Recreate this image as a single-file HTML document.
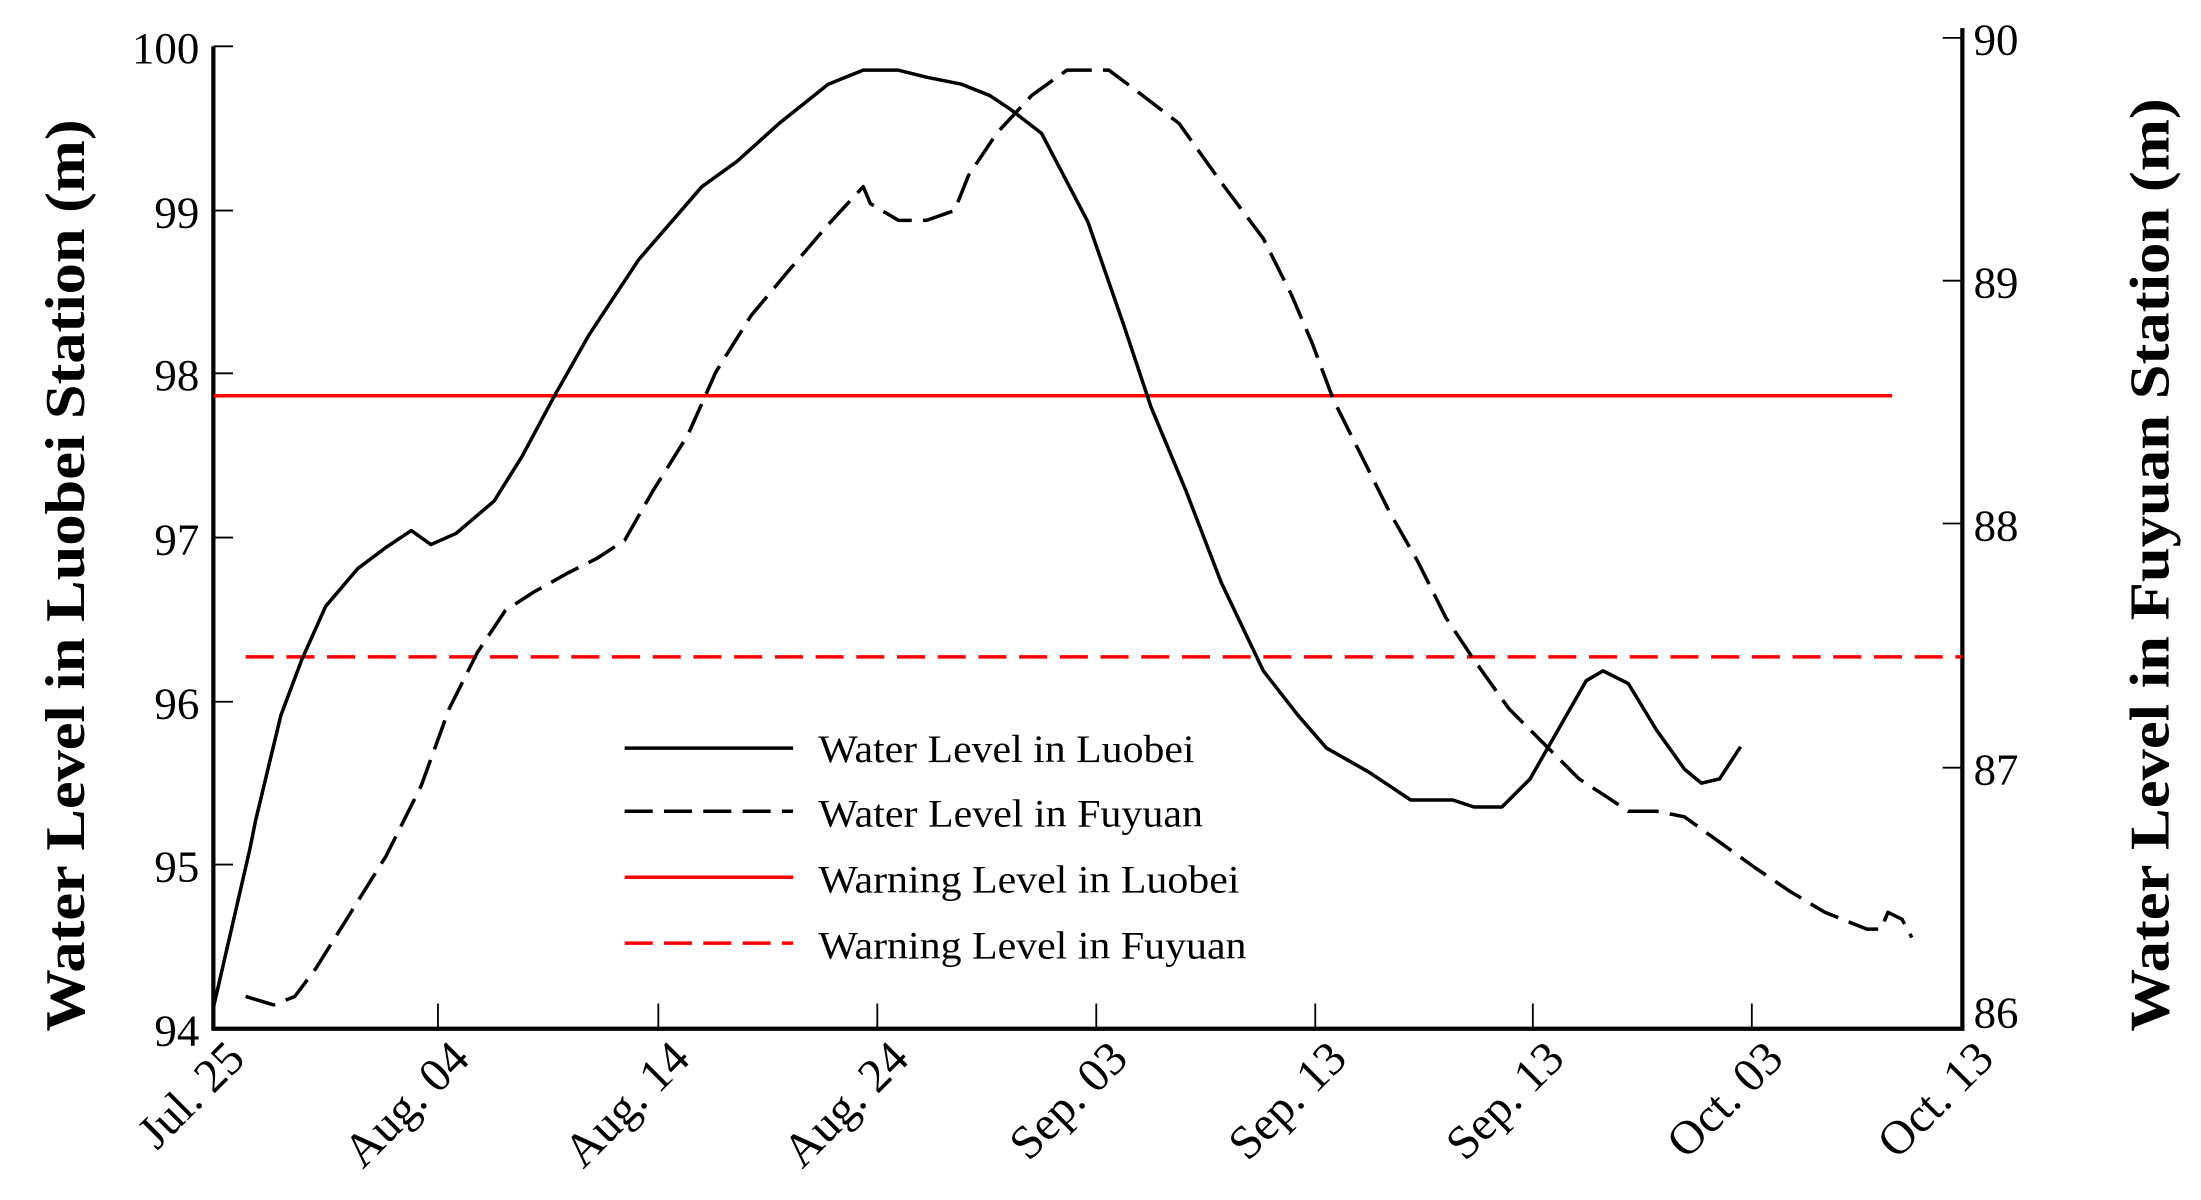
<!DOCTYPE html>
<html><head><meta charset="utf-8"><style>html,body{margin:0;padding:0;background:#fff}svg{display:block}</style></head><body>
<svg width="2201" height="1200" viewBox="0 0 1568 855" preserveAspectRatio="none" xmlns="http://www.w3.org/2000/svg" font-family="Liberation Serif, serif">
<rect width="1568" height="855" fill="#fff"/>
<polyline points="152,33 152,733 1398,733 1398,20" fill="none" stroke="#000" stroke-width="3"/>
<g stroke="#000" stroke-width="1.3">
<line x1="152" y1="33" x2="166" y2="33"/><line x1="152" y1="150" x2="166" y2="150"/><line x1="152" y1="266" x2="166" y2="266"/><line x1="152" y1="383" x2="166" y2="383"/><line x1="152" y1="500" x2="166" y2="500"/><line x1="152" y1="616" x2="166" y2="616"/>
<line x1="1384" y1="27" x2="1398" y2="27"/><line x1="1384" y1="200" x2="1398" y2="200"/><line x1="1384" y1="373" x2="1398" y2="373"/><line x1="1384" y1="547" x2="1398" y2="547"/>
<line x1="312" y1="733" x2="312" y2="715"/><line x1="469" y1="733" x2="469" y2="715"/><line x1="625" y1="733" x2="625" y2="715"/><line x1="781" y1="733" x2="781" y2="715"/><line x1="937" y1="733" x2="937" y2="715"/><line x1="1092" y1="733" x2="1092" y2="715"/><line x1="1248" y1="733" x2="1248" y2="715"/>
</g>
<g font-size="32" text-anchor="end">
<text x="142" y="45">100</text><text x="142" y="162">99</text><text x="142" y="278">98</text><text x="142" y="395">97</text><text x="142" y="512">96</text><text x="142" y="628">95</text><text x="142" y="745">94</text>
</g>
<g font-size="32" text-anchor="start">
<text x="1406" y="39">90</text><text x="1406" y="212">89</text><text x="1406" y="385">88</text><text x="1406" y="559">87</text><text x="1406" y="732">86</text>
</g>
<g font-size="34" text-anchor="end">
<text transform="translate(176,756) rotate(-45)">Jul. 25</text>
<text transform="translate(336,756) rotate(-45)">Aug. 04</text>
<text transform="translate(493,756) rotate(-45)">Aug. 14</text>
<text transform="translate(649,756) rotate(-45)">Aug. 24</text>
<text transform="translate(805,756) rotate(-45)">Sep. 03</text>
<text transform="translate(961,756) rotate(-45)">Sep. 13</text>
<text transform="translate(1116,756) rotate(-45)">Sep. 13</text>
<text transform="translate(1272,756) rotate(-45)">Oct. 03</text>
<text transform="translate(1422,756) rotate(-45)">Oct. 13</text>
</g>
<text transform="translate(60,735) rotate(-90)" font-size="40" font-weight="bold" textLength="650" lengthAdjust="spacingAndGlyphs">Water Level in Luobei Station (m)</text>
<text transform="translate(1545,735) rotate(-90)" font-size="40" font-weight="bold" textLength="665" lengthAdjust="spacingAndGlyphs">Water Level in Fuyuan Station (m)</text>
<line x1="152" y1="282" x2="1348" y2="282" stroke="#f00" stroke-width="2.5"/>
<line x1="175" y1="468" x2="1398" y2="468" stroke="#f00" stroke-width="2.5" stroke-dasharray="20,9"/>
<polyline fill="none" stroke="#000" stroke-width="2.5" stroke-linejoin="round" points="152,718 178,605 182,585 200,510 215,470 232,432 255,405 275,390 293,378 307,388 325,380 352,357 372,325 395,282 420,238 455,185 500,133 525,115 555,88 590,60 615,50 640,50 660,55 685,60 705,68 720,78 742,95 775,158 800,230 820,290 845,350 870,415 900,478 925,510 945,533 975,550 1005,570 1035,570 1050,575 1070,575 1090,555 1110,520 1130,485 1142,478 1160,487 1180,520 1200,548 1212,558 1225,555 1240,532"/>
<polyline fill="none" stroke="#000" stroke-width="2.5" stroke-dasharray="22,8" stroke-linejoin="round" points="175,710 195,716 210,710 225,690 250,650 275,610 300,560 320,505 340,465 360,435 380,422 405,408 425,398 445,385 465,350 490,310 510,265 535,225 560,195 590,160 615,133 620,145 640,157 660,157 680,150 690,125 710,95 735,68 760,50 790,50 810,65 840,88 870,130 900,170 920,210 935,245 950,285 970,325 990,365 1010,400 1030,440 1050,470 1075,505 1100,530 1125,555 1145,568 1160,578 1180,578 1200,582 1225,600 1250,618 1275,635 1300,650 1330,662 1340,662 1345,650 1355,655 1362,668"/>
<line x1="445" y1="533" x2="565" y2="533" stroke="#000" stroke-width="2.5"/>
<line x1="445" y1="578" x2="565" y2="578" stroke="#000" stroke-width="2.5" stroke-dasharray="20,8"/>
<line x1="445" y1="625" x2="565" y2="625" stroke="#f00" stroke-width="2.5"/>
<line x1="445" y1="672" x2="565" y2="672" stroke="#f00" stroke-width="2.5" stroke-dasharray="20,8"/>
<g font-size="28">
<text x="583" y="543" textLength="268" lengthAdjust="spacingAndGlyphs">Water Level in Luobei</text>
<text x="583" y="589" textLength="274" lengthAdjust="spacingAndGlyphs">Water Level in Fuyuan</text>
<text x="583" y="636" textLength="300" lengthAdjust="spacingAndGlyphs">Warning Level in Luobei</text>
<text x="583" y="683" textLength="305" lengthAdjust="spacingAndGlyphs">Warning Level in Fuyuan</text>
</g>
</svg>
</body></html>
